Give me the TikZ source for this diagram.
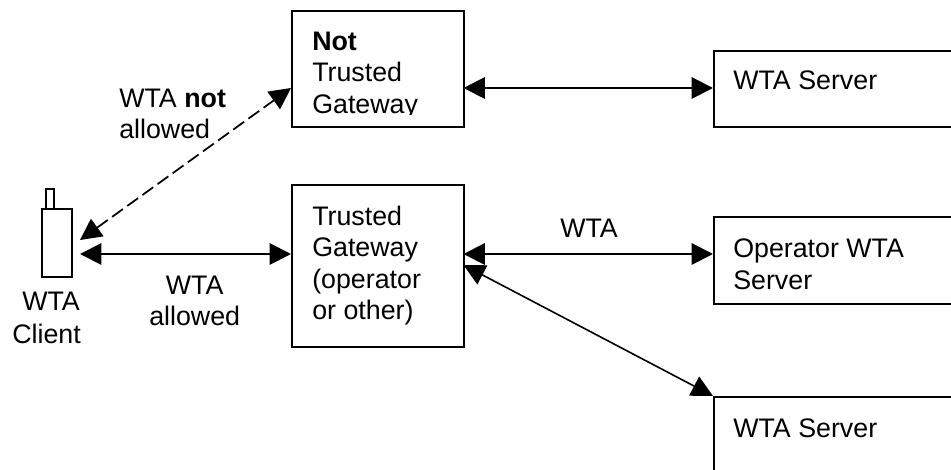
\documentclass[tikz,border=0pt]{standalone}
\usepackage{fontspec}
\setmainfont{Liberation Sans}
\usetikzlibrary{arrows.meta}
\tikzset{
    box/.style={draw,line width=1.5pt,anchor=north west,inner sep=0pt},
    phone/.style={draw,line width=1.2pt,anchor=north west,inner sep=0pt},
    txt/.style={anchor=north west,inner sep=0pt,align=left,font=\fontsize{20.1}{23.4}\selectfont},
    link/.style={>={Triangle[length=16pt,width=16pt]},<->,line width=1.5pt}
}

\begin{document}
\begin{tikzpicture}[x=.75pt,y=-.75pt]
    \useasboundingbox (0,0) rectangle (951,470);
    \clip (0,0) rectangle (951,470);
    % gateways
    \node[box,minimum width=129pt,minimum height=87pt] (notgw) at (291,10) {};
    \node[box,minimum width=129pt,minimum height=121.5pt] (trustgw) at (291,184) {};
    % servers, they run off the page
    \node[box,minimum width=300pt,minimum height=57pt] (srvtop) at (713,50) {};
    \node[box,minimum width=300pt,minimum height=65pt] (srvop) at (713,216) {};
    \node[box,minimum width=300pt,minimum height=100pt] (srvlow) at (713,396) {};
    % client
    \node[phone,minimum width=22.5pt,minimum height=51pt] (client) at (41,208) {};
    \node[phone,minimum width=6pt,minimum height=14.5pt] (antenna) at (45,188.5) {};
    % labels
    \begin{scope}
        \clip (291,10) rectangle (463,115);
        \node[txt] (notgwtxt) at (312,32) {\textbf{Not}\\Trusted\\Gateway};
    \end{scope}
    \begin{scope}
        \clip (0,280) rectangle (79,320);
        \node[txt] (clienttxt) at (22,292) {WTA};
    \end{scope}
    \node[txt] (clienttxtb) at (12,324) {Client};
    \node[txt] (trustgwtxt) at (312,206) {Trusted\\Gateway\\(operator\\or other)};
    \node[txt] (nottxt) at (119,89) {WTA \textbf{not}\\allowed};
    \node[txt,align=center] (allowtxt) at (149,276) {WTA\\allowed};
    \node[txt] (wtatxt) at (560,219) {WTA};
    \node[txt] (srvtoptxt) at (733,71) {WTA Server};
    \node[txt] (srvoptxt) at (733,239) {Operator WTA\\Server};
    \node[txt] (srvlowtxt) at (733,419) {WTA Server};
    % links
    \coordinate (c1) at (80,240);
    \coordinate (c2) at (80,254);
    \coordinate (g1) at (291,88);
    \coordinate (g2) at (291,254);
    \coordinate (g3) at (463.5,88);
    \coordinate (g4) at (463.5,254);
    \coordinate (g5) at (463.5,265);
    \coordinate (s1) at (713,88);
    \coordinate (s2) at (713,254);
    \draw[link,dash pattern=on 10pt off 4pt,line width=1.3pt] (c1) -- (g1);
    \draw[link] (c2) -- (g2);
    \draw[link] (g3) -- (s1);
    \draw[link] (g4) -- (s2);
    \draw[link,line width=1.2pt] (g5) -- (srvlow.north west);
\end{tikzpicture}
\end{document}
